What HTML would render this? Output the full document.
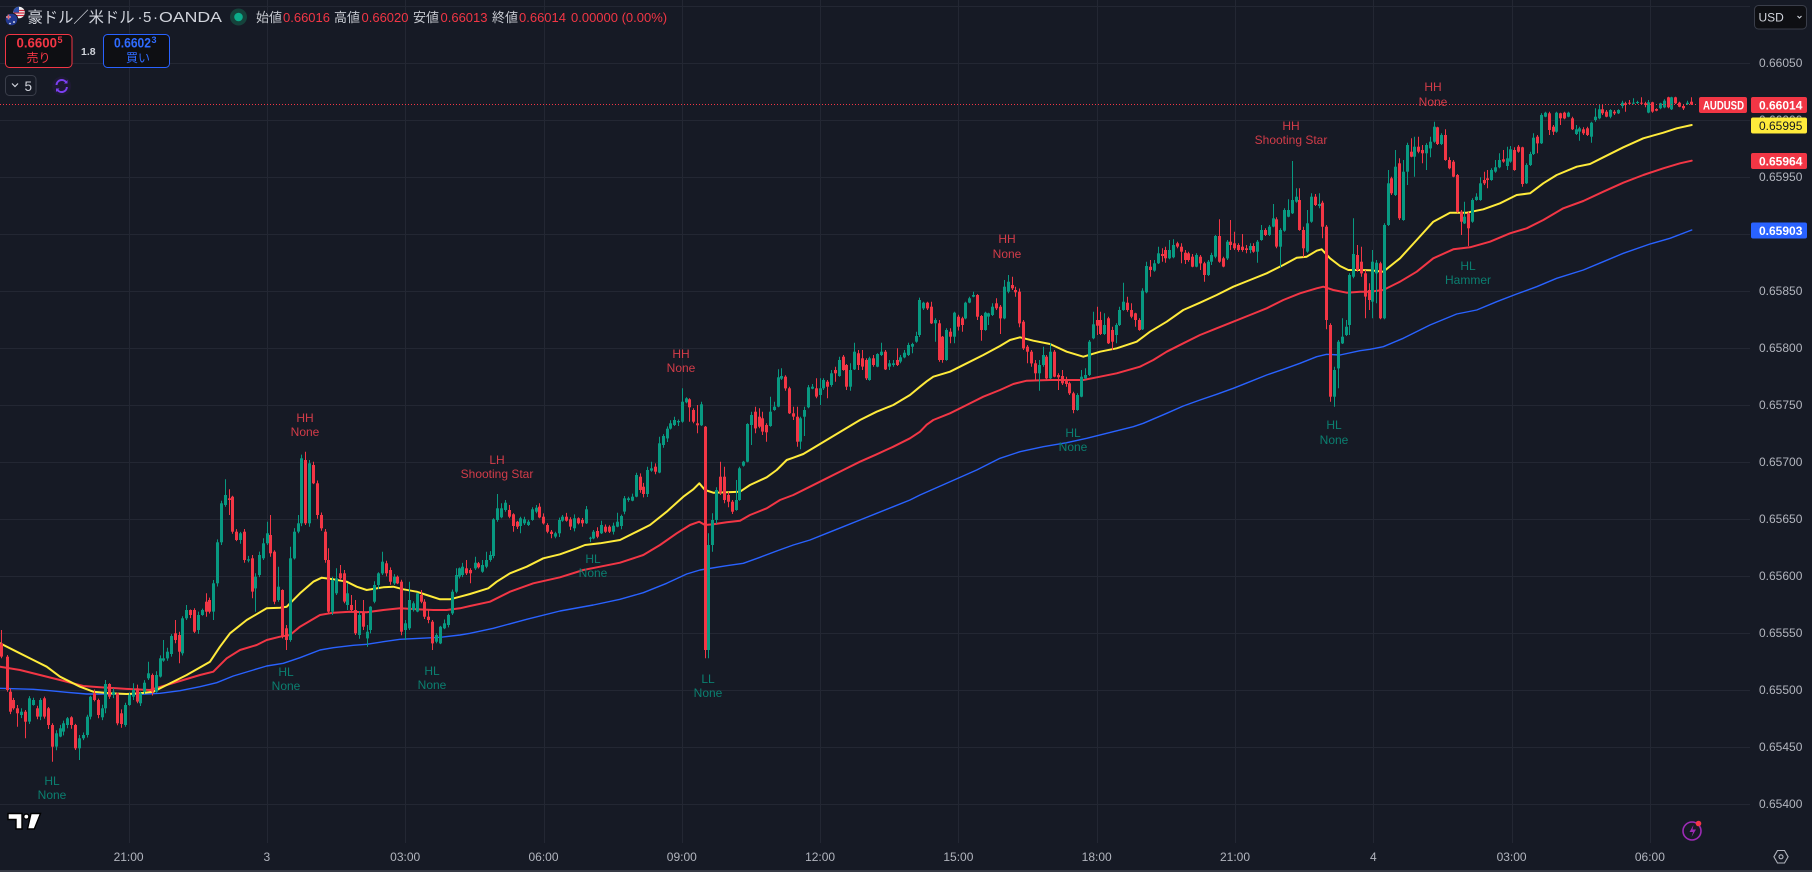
<!DOCTYPE html>
<html><head><meta charset="utf-8">
<style>
html,body{margin:0;padding:0;background:#161a25;}
body{width:1812px;height:872px;overflow:hidden;position:relative;}
svg{position:absolute;left:0;top:0;font-family:"Liberation Sans","Noto Sans CJK JP",sans-serif;}
</style></head><body>
<svg id="c" width="1812" height="872" viewBox="0 0 1812 872" xmlns="http://www.w3.org/2000/svg">
<rect x="0" y="0" width="1812" height="872" fill="#161a25"/>
<g id="grid" stroke="#232733" stroke-width="1"></g>
<g id="ma"></g>
<g id="candles"></g>
<line x1="0" y1="104.5" x2="1698" y2="104.5" stroke="#f23645" stroke-width="1" stroke-dasharray="1,2"/>

<!-- pattern labels -->
<g font-size="12" text-anchor="middle">
<g fill="#0b7f70">
<text x="52" y="785">HL</text><text x="52" y="799">None</text>
<text x="286" y="676">HL</text><text x="286" y="690">None</text>
<text x="432" y="675">HL</text><text x="432" y="689">None</text>
<text x="593" y="563">HL</text><text x="593" y="577">None</text>
<text x="708" y="683">LL</text><text x="708" y="697">None</text>
<text x="1073" y="437">HL</text><text x="1073" y="451">None</text>
<text x="1334" y="429">HL</text><text x="1334" y="444">None</text>
<text x="1468" y="270">HL</text><text x="1468" y="284">Hammer</text>
</g>
<g fill="#d23c49">
<text x="305" y="422">HH</text><text x="305" y="436">None</text>
<text x="497" y="464">LH</text><text x="497" y="478">Shooting Star</text>
<text x="681" y="358">HH</text><text x="681" y="372">None</text>
<text x="1007" y="243">HH</text><text x="1007" y="258">None</text>
<text x="1291" y="130">HH</text><text x="1291" y="144">Shooting Star</text>
<text x="1433" y="91">HH</text><text x="1433" y="106">None</text>
</g>
</g>

<!-- price axis -->
<g font-size="12" fill="#b2b5be">
<text x="1759" y="67">0.66050</text>
<text x="1759" y="124">0.66000</text>
<text x="1759" y="181">0.65950</text>
<text x="1759" y="238">0.65900</text>
<text x="1759" y="295">0.65850</text>
<text x="1759" y="352">0.65800</text>
<text x="1759" y="409">0.65750</text>
<text x="1759" y="466">0.65700</text>
<text x="1759" y="523">0.65650</text>
<text x="1759" y="580">0.65600</text>
<text x="1759" y="637">0.65550</text>
<text x="1759" y="694">0.65500</text>
<text x="1759" y="751">0.65450</text>
<text x="1759" y="808">0.65400</text>
</g>
<g font-size="12" font-weight="bold">
<rect x="1699" y="97" width="48" height="16" rx="2" fill="#f23645"/>
<text x="1703" y="109.5" fill="#ffffff" textLength="41" lengthAdjust="spacingAndGlyphs">AUDUSD</text>
<rect x="1751" y="97" width="56" height="16" rx="2" fill="#f23645"/>
<text x="1759" y="109.5" fill="#ffffff">0.66014</text>
<rect x="1751" y="117.5" width="56" height="16" rx="2" fill="#ffeb3b"/>
<text x="1759" y="130" fill="#131722" font-weight="normal">0.65995</text>
<rect x="1751" y="153" width="56" height="16" rx="2" fill="#f23645"/>
<text x="1759" y="165.5" fill="#ffffff">0.65964</text>
<rect x="1751" y="222.5" width="56" height="16" rx="2" fill="#2962ff"/>
<text x="1759" y="235" fill="#ffffff">0.65903</text>
</g>

<!-- time axis -->
<g font-size="12" fill="#b2b5be" text-anchor="middle">
<text x="128.6" y="861">21:00</text>
<text x="266.9" y="861">3</text>
<text x="405.2" y="861">03:00</text>
<text x="543.5" y="861">06:00</text>
<text x="681.8" y="861">09:00</text>
<text x="820.1" y="861">12:00</text>
<text x="958.4" y="861">15:00</text>
<text x="1096.7" y="861">18:00</text>
<text x="1235" y="861">21:00</text>
<text x="1373.3" y="861">4</text>
<text x="1511.6" y="861">03:00</text>
<text x="1649.9" y="861">06:00</text>
</g>
<rect x="0" y="870" width="1812" height="2" fill="#363a45"/>

<!-- header -->
<circle cx="19" cy="12.5" r="5.8" fill="#f0f0f0"/>
<path d="M13.5 10.5h11M13.5 13h11M14 15.5h10" stroke="#d0283a" stroke-width="1.2"/>
<path d="M13.2 12.5A5.8 5.8 0 0 1 19 6.7V12.5Z" fill="#2e4fa8"/>
<circle cx="11.5" cy="19.5" r="6.3" fill="#22388f" stroke="#161a25" stroke-width="1"/>
<path d="M6 17h5M8.5 14.5v5" stroke="#ffffff" stroke-width="1.4"/>
<path d="M6 17h5M8.5 14.5v5" stroke="#d0283a" stroke-width="0.7"/>
<circle cx="14" cy="22" r="0.9" fill="#fff"/><circle cx="10" cy="23.5" r="0.8" fill="#fff"/>

<g fill="#d1d4dc">
<text x="27.5" y="22.5" font-size="15.5" textLength="107" lengthAdjust="spacingAndGlyphs">豪ドル／米ドル</text>
<text x="137.5" y="22" font-size="15">·</text>
<text x="143" y="22" font-size="15">5</text>
<text x="153" y="22" font-size="15">·</text>
<text x="159" y="22" font-size="15" textLength="63" lengthAdjust="spacingAndGlyphs">OANDA</text>
</g>
<circle cx="238.5" cy="17" r="8.5" fill="#15423b"/>
<circle cx="238.5" cy="17" r="4.3" fill="#0cab8a"/>
<g font-size="13">
<text x="256" y="22" fill="#c5c8cf" textLength="26" lengthAdjust="spacingAndGlyphs">始値</text>
<text x="283" y="22" fill="#f23645">0.66016</text>
<text x="334" y="22" fill="#c5c8cf" textLength="26" lengthAdjust="spacingAndGlyphs">高値</text>
<text x="361.5" y="22" fill="#f23645">0.66020</text>
<text x="413" y="22" fill="#c5c8cf" textLength="26" lengthAdjust="spacingAndGlyphs">安値</text>
<text x="440.5" y="22" fill="#f23645">0.66013</text>
<text x="492" y="22" fill="#c5c8cf" textLength="26" lengthAdjust="spacingAndGlyphs">終値</text>
<text x="519" y="22" fill="#f23645">0.66014</text>
<text x="571" y="22" fill="#f23645">0.00000 (0.00%)</text>
</g>

<rect x="5.5" y="34.5" width="66.5" height="33" rx="4" fill="#0e0f13" stroke="#f23645"/>
<text x="16.5" y="47.5" font-size="13.5" font-weight="bold" fill="#f23645" textLength="40.5" lengthAdjust="spacingAndGlyphs">0.6600</text>
<text x="57.5" y="43" font-size="9" font-weight="bold" fill="#f23645">5</text>
<text x="26.5" y="62" font-size="12" fill="#f23645">売り</text>
<text x="81" y="55" font-size="10.5" font-weight="bold" fill="#d1d4dc">1.8</text>
<rect x="103.5" y="34.5" width="66" height="33" rx="4" fill="#0e0f13" stroke="#2962ff"/>
<text x="114" y="47.5" font-size="13.5" font-weight="bold" fill="#2f6bff" textLength="37" lengthAdjust="spacingAndGlyphs">0.6602</text>
<text x="151.5" y="43" font-size="9" font-weight="bold" fill="#2f6bff">3</text>
<text x="126" y="62" font-size="12" fill="#2f6bff">買い</text>

<rect x="5.5" y="75.5" width="30.5" height="20" rx="4" fill="#161a25" stroke="#3a3e4a"/>
<path d="M12 83.5l3 3 3-3" fill="none" stroke="#d1d4dc" stroke-width="1.2"/>
<text x="24.5" y="91" font-size="13.5" fill="#d1d4dc">5</text>
<circle cx="61.7" cy="86" r="9.5" fill="#1e1a33"/>
<path d="M56.5 85a5.3 5.3 0 0 1 9.8-2.5M66.9 87a5.3 5.3 0 0 1-9.8 2.5" fill="none" stroke="#7b3ff0" stroke-width="2"/>
<path d="M67.5 80v3.5h-3.5ZM56 92v-3.5h3.5Z" fill="#7b3ff0"/>

<rect x="1754.5" y="5.5" width="52" height="23.5" rx="4" fill="#0e0f13" stroke="#3a3e4a"/>
<text x="1758.5" y="21.5" font-size="12" fill="#d1d4dc">USD</text>
<path d="M1797.5 16l2 2 2-2" fill="none" stroke="#d1d4dc" stroke-width="1.1"/>

<!-- TV logo -->
<g fill="#ffffff" stroke="#000000" stroke-width="1.4" stroke-linejoin="miter">
<path d="M8 813.5H22V829H16V819.5H8Z"/>
<circle cx="26.3" cy="816.6" r="2.6"/>
<path d="M31 813.5H40.5L34.3 829H27.5Z"/>
</g>
<!-- lightning -->
<circle cx="1692" cy="831" r="9" fill="none" stroke="#9c2bb5" stroke-width="1.6"/>
<path d="M1693.5 825l-4 7h3.5l-1.5 5 4.5-7.5h-3.5z" fill="#9c2bb5"/>
<circle cx="1698.5" cy="823.5" r="2.8" fill="#f23645"/>
<!-- settings -->
<path d="M1777.5 850.5h7l3.6 6.3-3.6 6.2h-7l-3.6-6.2z" fill="none" stroke="#b2b5be" stroke-width="1.1"/>
<circle cx="1781" cy="856.8" r="2" fill="none" stroke="#b2b5be" stroke-width="1.1"/>
</svg>
<script>
(function(){
var NS='http://www.w3.org/2000/svg';
function el(tag,a,p){var e=document.createElementNS(NS,tag);for(var k in a)e.setAttribute(k,a[k]);p.appendChild(e);return e;}
var grid=document.getElementById('grid');
for(var k=0;k<15;k++){var y=6+57*k+0.5;el('line',{x1:0,y1:y,x2:1750,y2:y},grid);}
for(var k=0;k<12;k++){var x=Math.round(128.6+138.3*k)+0.5;el('line',{x1:x,y1:0,x2:x,y2:843},grid);}

var S=[
{ox:0,oy:380,d:[
[3,790,830,'r',750,835],[20,830,930,'r',825,935],[29,935,995,'r'],[40,960,985,'r'],[52,985,1000,'r',975,1040],[63,995,1005,'g'],[75,995,1025,'r',990,1075],[88,955,1025,'g'],[99,960,975,'g'],[110,985,1010,'r'],[121,960,1010,'g'],[133,955,1010,'r'],[145,985,1035,'r'],[157,1035,1100,'r',1030,1145],[168,1060,1100,'g'],[180,1045,1070,'g'],[190,1030,1055,'g'],[202,1015,1035,'g'],[214,1012,1035,'r'],[226,1035,1105,'r'],[238,1075,1105,'g',1065,1140],[248,1065,1075,'g'],[260,1010,1065,'g'],[271,950,1010,'g'],[283,940,960,'r'],[295,960,1005,'r'],[306,985,1012,'g'],[316,912,985,'g',900,1000],[328,912,950,'r'],[340,935,945,'g'],[351,940,1030,'r'],[364,1000,1032,'r'],[376,975,1035,'g'],[386,945,975,'g'],[398,930,950,'g',910,960],[410,925,965,'r'],[421,940,970,'g'],[433,908,935,'g'],[445,880,895,'g',845,900],[456,885,935,'r'],[467,885,935,'g'],[479,835,890,'g'],[490,835,842,'g',780,845],[501,815,835,'g'],[514,768,822,'g'],[525,760,780,'r',720,790],[537,765,815,'r',755,850],[547,715,820,'g'],[558,690,715,'g',675,720],[570,690,705,'r'],[582,690,755,'r'],[594,705,750,'g'],[605,690,705,'g'],[617,665,695,'r',640,710],[628,660,695,'r'],[640,610,695,'g',600,720],[652,487,610,'g'],[663,370,487,'g'],[674,345,375,'g',298,380],[686,355,360,'r',328,405],[697,350,455,'r'],[709,455,480,'r'],[720,460,480,'g'],[733,455,540,'r'],[743,538,542,'g'],[755,535,635,'r',525,655],[766,590,625,'g',580,695],[778,525,585,'g'],[790,490,535,'g',475,540],[801,460,490,'g',425,495],[811,465,520,'r',405,530],[823,515,665,'r'],[835,620,660,'g',560,665],[847,630,770,'r'],[859,745,780,'r',735,810],[870,535,780,'g',500,785],[881,455,535,'g'],[893,430,455,'g',405,460],[904,235,430,'g'],[916,240,430,'r',215,435],[928,250,430,'g',240,440],[939,255,310,'r'],[951,310,405,'r'],[962,405,445,'r'],[974,455,540,'r'],[985,540,695,'r',505,700],[997,600,695,'g',590,705],[1008,595,640,'g',565,645],[1020,580,595,'r',555,600],[1031,580,665,'r',570,670],[1042,640,675,'g',610,690],[1054,675,690,'r',645,695],[1065,690,760,'r',660,765],[1077,705,765,'g'],[1088,695,740,'r',660,750],[1100,755,775,'g',735,800],[1111,680,750,'g'],[1123,615,665,'g'],[1135,580,615,'g'],[1147,545,580,'g',515,585],[1158,550,580,'r'],[1169,570,605,'r'],[1181,590,610,'g'],[1192,590,610,'r'],[1204,605,755,'r'],[1216,730,750,'g',720,780],[1228,660,745,'g',605,750],[1240,670,690,'g'],[1251,640,695,'g'],[1262,645,665,'r',630,670],[1273,665,710,'r'],[1285,710,720,'r',690,730],[1297,725,790,'r',720,810],[1309,765,785,'g'],[1320,740,790,'g'],[1331,730,745,'g'],[1343,705,735,'g'],[1355,635,700,'g'],[1367,585,635,'g',565,640],[1378,565,590,'g']
]},
{ox:460,oy:270,d:[
[7,890,915,'g'],[19,895,910,'r',870,915],[31,900,910,'r',895,940],[44,878,895,'g',860,900],[55,880,892,'r'],[67,885,905,'g',870,908],[78,870,890,'g',845,895],[89,855,870,'g'],[100,748,858,'g'],[112,715,750,'g',672,755],[124,715,742,'g',700,745],[135,698,720,'g',690,725],[146,720,740,'r',705,745],[158,733,768,'r',730,785],[170,755,770,'r'],[181,745,768,'g',740,790],[193,748,760,'g',740,765],[204,755,765,'g'],[215,718,750,'g',712,752],[227,713,725,'g',705,730],[238,710,742,'r',700,745],[250,740,760,'r'],[262,765,785,'r',760,790],[273,785,792,'r',780,805],[284,790,800,'g',785,805],[296,750,790,'g'],[307,740,752,'g',735,755],[319,740,752,'r'],[331,748,770,'r',742,780],[343,745,775,'g'],[354,745,760,'r'],[366,750,760,'r'],[377,718,760,'g',708,762],[389,803,806,'g'],[400,785,805,'g',780,808],[412,783,800,'r'],[424,765,790,'g',752,792],[435,770,785,'r'],[447,770,785,'r'],[458,767,785,'g'],[470,755,770,'g',728,772],[482,738,768,'g'],[493,685,725,'g'],[505,685,690,'g',680,695],[516,680,692,'g'],[527,615,680,'g',608,682],[539,620,660,'r'],[550,650,672,'r'],[562,600,672,'g'],[573,595,602,'g',575,605],[585,590,605,'r'],[596,520,608,'g',500,610],[608,498,525,'g'],[620,476,505,'g'],[631,460,476,'g'],[643,450,465,'g',440,468],[654,453,457,'g'],[665,395,455,'g',355,458],[677,385,397,'g',382,400],[688,388,412,'r',385,455],[700,420,455,'r',415,460],[711,460,466,'r',405,490],[722,403,466,'g',395,468],[734,470,1140,'r',468,1165],[745,825,1140,'g',790,1165],[757,750,825,'g',730,845],[769,660,750,'g'],[781,620,668,'r',575,675],[792,620,690,'r',590,700],[804,675,695,'r',665,712],[815,695,725,'r',690,732],[827,690,720,'g',630,722],[838,595,690,'g',590,692],[850,575,587,'g'],[861,462,575,'g'],[873,435,465,'g',425,525],[884,425,475,'r',410,490],[896,440,470,'r',415,475],[907,445,485,'r',425,495],[919,465,487,'r',460,515],[930,425,468,'g',380,470],[941,410,420,'g',395,422],[953,322,410,'g',298,412],[964,318,326,'g',295,330],[976,320,355,'r'],[987,355,430,'r',350,432],[999,430,440,'r',410,450],[1010,440,515,'r',410,530],[1021,445,515,'g',440,538],[1033,420,440,'g',410,498],[1044,352,412,'g',345,415],[1056,350,356,'g',342,358],[1067,355,380,'r',325,385],[1079,355,375,'g',325,405],[1090,330,355,'g',325,360],[1102,335,350,'r',330,385],[1113,310,345,'g',300,350],[1125,300,310,'r',290,335],[1137,270,318,'g',260,320],[1148,260,300,'r',255,302],[1159,285,350,'r',282,360],[1171,300,350,'g',280,362],[1182,245,298,'g',218,300],[1194,250,285,'r',240,300],[1205,265,290,'r',240,300],[1217,270,325,'r',265,330],[1228,265,330,'g',260,332],[1240,265,285,'r',255,290],[1252,252,290,'g',250,292],[1263,245,255,'g',218,258],[1275,245,298,'r',240,300],[1286,280,290,'g',270,300],[1298,280,285,'g',270,290],[1310,270,285,'r',235,288],[1321,262,275,'g',255,280],[1333,248,262,'g',240,265],[1344,225,255,'g',218,258],[1356,222,230,'g',218,250],[1367,198,215,'g',185,218],[1378,90,195,'g']
]},
{ox:900,oy:130,d:[
[70,518,535,'g',515,540],[82,518,535,'r',515,540],[94,530,580,'r',515,582],[105,570,580,'g',565,635],[116,580,690,'r',570,695],[127,620,690,'r',618,698],[139,600,690,'g',595,692],[150,605,620,'r',595,640],[162,548,620,'g',545,640],[173,560,590,'r'],[185,565,585,'r',560,605],[196,518,565,'g',515,568],[208,505,518,'g',500,520],[219,495,500,'g',485,502],[231,495,560,'r'],[242,558,600,'r',555,632],[254,548,600,'g',545,602],[265,550,560,'g',548,585],[277,530,555,'g',520,558],[288,520,535,'r',505,540],[300,530,565,'r',525,612],[312,470,565,'g',450,568],[323,455,485,'g',435,490],[335,465,475,'r',440,480],[346,480,487,'r',470,500],[358,485,580,'r'],[370,575,655,'r',570,660],[381,650,665,'r',645,700],[393,665,700,'r',660,710],[404,700,730,'r',690,750],[416,705,730,'g',690,782],[428,675,705,'g',650,710],[439,680,745,'r',675,750],[451,665,745,'g',640,748],[462,665,740,'r',660,742],[474,735,742,'r',730,780],[485,738,760,'r',720,765],[497,752,762,'r',740,770],[508,760,790,'r',755,795],[520,790,840,'r',785,850],[532,795,840,'g',790,842],[543,740,800,'g',720,802],[555,735,745,'g',715,748],[567,635,735,'g',630,738],[578,583,625,'g',545,628],[590,570,587,'r',530,615],[601,570,612,'r',545,615],[612,585,612,'g',550,615],[624,565,640,'r',560,642],[635,600,635,'r',590,660],[647,585,615,'g',580,640],[658,540,585,'g',530,588],[670,515,540,'g',458,542],[681,518,540,'r',500,545],[693,540,560,'r',520,565],[704,550,570,'r',548,590],[716,570,600,'r',565,602],[727,482,598,'g',475,600],[739,408,487,'g',395,490],[750,410,420,'r',390,440],[762,400,422,'g',390,425],[773,370,400,'g',350,402],[785,372,378,'r',355,395],[796,360,385,'r',350,398],[808,360,385,'g',330,388],[819,345,382,'g',328,385],[831,340,350,'r',335,355],[842,350,365,'r',340,400],[854,368,390,'r',360,402],[865,370,390,'r',365,395],[877,380,410,'r',372,412],[888,375,410,'g',370,412],[900,380,400,'r',375,420],[911,400,435,'r',395,455],[923,395,435,'g',390,438],[934,375,395,'g',368,405],[946,318,380,'g',315,385],[957,318,395,'r',268,398],[969,385,410,'r',380,412],[980,335,385,'g',330,390],[991,335,345,'r',270,360],[1003,340,355,'r',305,360],[1014,345,360,'r',340,365],[1026,350,360,'r',312,365],[1037,355,360,'r',345,370],[1049,348,360,'g',340,370],[1060,348,365,'r',340,368],[1072,335,365,'g',330,398],[1083,300,330,'g',285,332],[1095,300,315,'r',295,318],[1106,290,315,'g',285,318],[1118,265,290,'g',222,292],[1129,268,350,'r',262,355],[1141,300,350,'g',295,412],[1152,240,302,'g',235,305],[1164,240,260,'g',208,262],[1175,210,250,'g',93,252],[1187,200,215,'g',175,218],[1198,210,300,'r',175,302],[1210,300,355,'r',290,382],[1221,280,365,'g',240,368],[1233,200,275,'g',190,278],[1244,200,225,'r',192,228],[1256,222,228,'g',190,235],[1267,218,290,'r',212,325],[1279,290,570,'r',285,598],[1290,585,800,'r',580,815],[1302,720,800,'g',710,830],[1314,635,715,'g',630,775],[1325,620,640,'g',565,642],[1337,590,615,'g',570,618],[1348,435,585,'g',430,615],[1360,372,440,'g',265,445],[1372,375,420,'r',345,425]
]},
{ox:1350,oy:70,d:[
[33,575,610,'r',530,620],[45,610,680,'r',600,745],[56,660,690,'r',640,720],[67,575,695,'g',540,745],[78,578,610,'g',570,700],[90,580,745,'r',575,748],[102,465,745,'g',460,748],[113,340,465,'g',300,468],[124,325,370,'r',320,375],[135,290,375,'g',240,378],[147,280,445,'r',265,450],[159,305,450,'g',270,452],[170,225,305,'g',218,345],[182,245,260,'r',205,262],[193,230,260,'g',200,320],[205,230,245,'r',200,250],[216,240,250,'r',225,280],[228,225,250,'g',220,300],[240,215,235,'g',200,262],[251,170,215,'g',155,218],[262,172,222,'r',170,225],[274,195,222,'g',190,225],[286,195,270,'r',178,272],[297,270,295,'r',262,298],[309,275,320,'r',270,322],[320,315,425,'r',312,428],[332,425,455,'r',420,495],[343,440,460,'g',395,462],[355,430,475,'r',425,528],[366,390,455,'g',385,458],[378,380,390,'g',370,392],[389,340,390,'g',322,392],[401,330,340,'r',305,345],[412,325,330,'r',300,355],[424,300,330,'g',295,332],[435,292,305,'g',270,308],[447,270,292,'g',250,295],[458,268,275,'r',240,278],[470,265,288,'g',230,300],[481,238,275,'g',228,278],[493,240,300,'r',232,302],[504,230,245,'r',225,248],[516,232,342,'r',230,350],[527,285,340,'g',280,342],[539,252,285,'g',245,288],[550,203,252,'g',190,255],[562,200,220,'r',195,250],[573,135,220,'g',130,222],[585,128,140,'g',125,142],[596,130,180,'r',125,195],[608,170,185,'r',165,195],[619,128,185,'g',125,188],[631,130,145,'r',128,165],[642,128,145,'r',125,148],[654,128,140,'g',125,142],[665,145,178,'r',140,180],[677,178,192,'g',165,195],[688,175,185,'g',170,212],[700,178,190,'r',172,195],[711,175,195,'r',170,198],[723,158,200,'g',155,218],[734,140,150,'g',115,155],[746,118,145,'g',105,148],[757,118,130,'r',102,135],[769,125,140,'r',120,142],[780,120,140,'g',118,145],[792,125,130,'r',120,135],[803,120,130,'g',118,132],[815,98,108,'g',92,115],[826,100,105,'r',95,125],[838,98,100,'r',90,103],[849,98,101,'g',85,103],[861,96,98,'g',92,102],[872,98,100,'r',82,102],[884,100,105,'r',95,112],[895,97,128,'g',90,130],[907,97,125,'r',95,128],[918,117,122,'r',115,124],[930,100,115,'g',98,118],[941,92,112,'g',88,115],[953,82,112,'r',80,115],[964,82,118,'g',80,120],[976,82,100,'r',80,102],[987,98,110,'r',95,112],[999,108,115,'r',105,120],[1010,98,102,'g',92,105],[1022,95,103,'r',82,105]
]}
];

var MA={
b:[[0,380,[[0,925],[100,928],[150,932],[200,937],[260,942],[350,942],[420,943],[480,940],[540,932],[600,920],[650,908],[700,888],[760,870],[800,858],[850,850],[900,833],[960,810],[1000,803],[1060,796],[1100,793],[1150,785],[1200,778],[1260,775],[1320,772],[1380,765]]],
[460,270,[[30,1090],[100,1075],[200,1048],[300,1023],[400,1005],[480,988],[550,968],[620,940],[680,912],[720,900],[800,887],[850,880],[900,862],[950,843],[1000,825],[1050,810],[1100,790],[1150,770],[1200,750],[1250,730],[1300,710],[1350,690],[1380,675]]],
[900,130,[[230,1020],[300,985],[360,965],[430,950],[500,938],[560,925],[620,910],[700,890],[730,880],[800,850],[850,828],[900,810],[950,793],[1000,775],[1050,755],[1100,735],[1150,718],[1200,700],[1250,680],[1280,673],[1320,675],[1380,662]]],
[1350,70,[[60,838],[100,830],[160,805],[240,765],[320,732],[380,720],[440,695],[500,672],[560,650],[620,625],[700,600],[760,575],[820,550],[900,522],[960,505],[1025,480]]]],
r:[[0,380,[[0,860],[60,870],[120,885],[180,900],[250,918],[300,922],[350,925],[400,928],[450,930],[500,915],[550,900],[600,885],[640,875],[680,835],[720,810],[770,795],[800,780],[840,770],[870,765],[900,740],[960,705],[1000,698],[1050,695],[1100,697],[1150,690],[1200,685],[1250,688],[1300,690],[1340,690],[1380,685]]],
[460,270,[[30,1008],[90,995],[150,965],[220,940],[300,922],[370,900],[420,890],[480,878],[550,855],[600,825],[650,790],[690,765],[718,755],[735,765],[760,763],[800,757],[840,752],[870,735],[920,715],[960,690],[1000,675],[1050,650],[1100,625],[1150,600],[1200,575],[1250,553],[1300,530],[1350,505],[1380,485]]],
[900,130,[[80,884],[100,870],[150,850],[200,825],[250,800],[300,780],[340,762],[380,752],[450,750],[500,750],[550,750],[600,740],[650,730],[720,710],[760,690],[800,665],[850,640],[900,615],[950,595],[1000,575],[1050,555],[1100,535],[1150,510],[1200,490],[1250,475],[1270,470],[1300,480],[1340,488],[1380,485]]],
[1350,70,[[60,665],[100,660],[150,635],[200,605],[250,565],[310,538],[360,532],[420,515],[480,490],[530,475],[580,450],[640,415],[700,393],[760,365],[820,338],[880,315],[940,295],[990,280],[1025,272]]]],
y:[[0,380,[[0,790],[50,815],[100,840],[140,860],[180,890],[240,920],[280,935],[330,940],[380,942],[420,940],[460,935],[500,915],[560,885],[630,845],[660,800],[690,760],[740,720],[800,685],[840,683],[860,680],[900,640],[940,605],[965,593],[1000,598],[1040,605],[1070,620],[1100,630],[1150,622],[1180,620],[1210,628],[1250,635],[1280,645],[1320,658],[1350,658],[1380,650]]],
[460,270,[[30,972],[85,955],[110,935],[150,910],[200,890],[250,865],[300,853],[350,835],[375,825],[420,820],[480,810],[530,785],[570,765],[620,725],[670,680],[700,658],[718,640],[735,660],[760,668],[800,667],[840,665],[870,645],[920,622],[950,600],[980,570],[1000,563],[1030,552],[1080,522],[1150,480],[1200,450],[1250,425],[1300,405],[1350,375],[1380,350]]],
[900,130,[[80,754],[100,740],[150,725],[200,700],[250,675],[300,648],[330,630],[360,622],[400,632],[450,642],[500,665],[550,680],[600,665],[650,655],[710,635],[750,605],[800,575],[850,540],[900,518],[950,495],[1000,470],[1050,450],[1100,430],[1150,405],[1190,383],[1220,380],[1250,362],[1265,358],[1290,385],[1320,408],[1345,420],[1380,420]]],
[1350,70,[[60,601],[100,605],[150,565],[200,510],[250,455],[300,428],[350,428],[400,418],[450,400],[500,375],[540,370],[580,340],[620,315],[680,290],[720,282],[760,262],[820,232],[880,205],[940,188],[980,175],[1025,165]]]]
};
var maG=document.getElementById('ma');
function drawMA(key,col,w){
  var pts=[];
  MA[key].forEach(function(s){var ox=s[0],oy=s[1];s[2].forEach(function(p){pts.push((ox+p[0]/3).toFixed(1)+','+(oy+p[1]/3).toFixed(1));});});
  el('polyline',{points:pts.join(' '),fill:'none',stroke:col,'stroke-width':w,'stroke-linejoin':'round','stroke-linecap':'round'},maG);
}
drawMA('b','#2962ff',1.4);
drawMA('r','#f23645',2);
drawMA('y','#ffeb3b',2);

var cg=document.getElementById('candles');
var n=0;
function rnd(){n++;var v=Math.sin(n*12.9898+78.233)*43758.5453;return v-Math.floor(v);}
S.forEach(function(s){
  s.d.forEach(function(c){
    var x=s.ox+c[0]/3, t=s.oy+c[1]/3, b=s.oy+c[2]/3;
    var wt,wb;
    if(c.length>4){wt=s.oy+c[4]/3;wb=s.oy+c[5]/3;}else{wt=t-(0.5+rnd()*3.5);wb=b+(0.5+rnd()*3.5);}
    var col=c[3]=='g'?'#089981':'#f23645';
    var cx=Math.round(x)+0.5;
    el('line',{x1:cx,y1:wt.toFixed(1),x2:cx,y2:wb.toFixed(1),stroke:col,'stroke-width':1},cg);
    var h=Math.max(1,b-t);
    el('rect',{x:Math.round(x)-1,y:t.toFixed(1),width:3,height:h.toFixed(1),fill:col},cg);
  });
});
})();
</script>
</body></html>
